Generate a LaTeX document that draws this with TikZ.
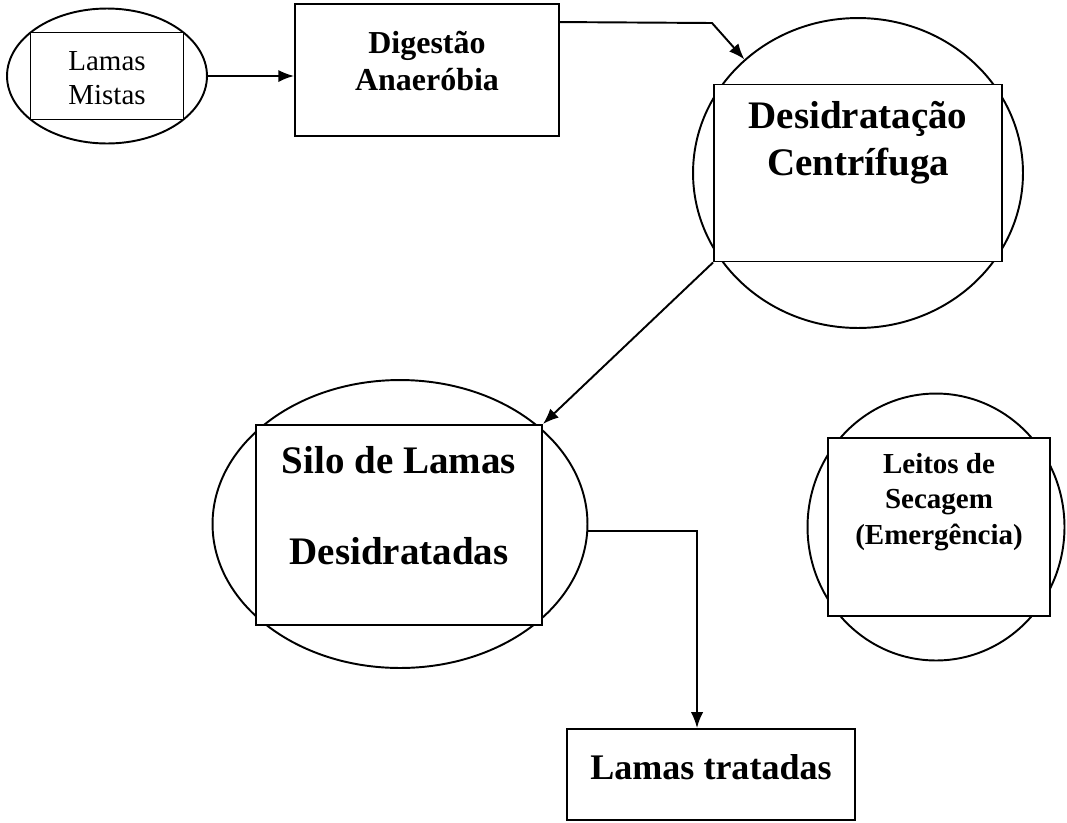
\documentclass[tikz,border=0pt]{standalone}
\usepackage{fontspec}
\setmainfont{Liberation Serif}
\usepackage{tikz}
\usetikzlibrary{arrows,arrows.meta,shapes.geometric,positioning}

\begin{document}
\begin{tikzpicture}[x=0.02cm,y=-0.02cm,line width=1.1pt]
\tikzstyle{oval}=[ellipse,draw,line width=1.1pt,inner sep=0pt]
\tikzstyle{caixa}=[rectangle,draw,line width=1.1pt,fill=white,inner sep=0pt]
\tikzstyle{txt}=[align=center,inner sep=0pt]
\tikzstyle{seta}=[-{Latex[length=9pt,width=7pt]},line width=1.1pt]
\useasboundingbox (0,0) rectangle (1067,822);
% ovais
\node[oval,minimum width=4cm,minimum height=2.7cm] (mistasEll) at (107,76) {};
\node[oval,minimum width=6.6cm,minimum height=6.2cm] (desCirc) at (858,173) {};
\node[oval,minimum width=7.5cm,minimum height=5.76cm] (siloEll) at (400,524) {};
\node[oval,minimum width=5.14cm,minimum height=5.34cm] (leitosCirc) at (936,527) {};
% caixas
\node[caixa,minimum width=3.06cm,minimum height=1.74cm] (mistasBox) at (107,76) {};
\node[txt,font=\fontsize{16.5}{19}\selectfont] (mistasT) at (107,78) {Lamas\\Mistas};
\node[caixa,minimum width=5.28cm,minimum height=2.64cm] (dig) at (427,70) {};
\node[txt,font=\bfseries\fontsize{18.2}{21}\selectfont] (digT) at (427,61) {Digestão\\Anaeróbia};
\node[caixa,minimum width=5.76cm,minimum height=3.54cm] (desBox) at (858,173) {};
\node[txt,font=\bfseries\fontsize{22.2}{26.7}\selectfont] (desT) at (858,143) {Desidratação\\Centrífuga};
\node[caixa,minimum width=5.72cm,minimum height=4cm] (siloBox) at (399,525) {};
\node[txt,font=\bfseries\fontsize{22.2}{26.7}\selectfont] (siloT) at (399,506) {Silo de Lamas\\[25pt]Desidratadas};
\node[caixa,minimum width=4.44cm,minimum height=3.56cm] (leitosBox) at (939,527) {};
\node[txt,font=\bfseries\fontsize{16.5}{20}\selectfont] (leitosT) at (939,502) {Leitos de\\Secagem\\(Emergência)};
\node[caixa,minimum width=5.76cm,minimum height=1.82cm] (trat) at (711,774.5) {};
\node[txt,font=\bfseries\fontsize{20.5}{24}\selectfont] (tratT) at (711,767) {Lamas tratadas};
% setas
\coordinate (bend) at (712,23);
\draw[seta] (mistasEll.east) -- (mistasEll.east -| dig.west);
\draw[seta] ([yshift=-0.38cm]dig.north east) -- (bend) -- (desCirc.135);
\draw[seta] (desBox.south west) -- (siloBox.north east);
\draw[seta] (siloEll.-2) -| ([xshift=-0.28cm]trat.north);
\end{tikzpicture}
\end{document}
